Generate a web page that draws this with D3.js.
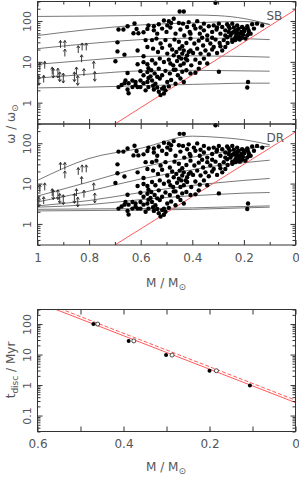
<!DOCTYPE html>
<html>
<head>
<meta charset="utf-8">
<script src="https://cdnjs.cloudflare.com/ajax/libs/d3/7.8.5/d3.min.js"></script>
<style>
  body { margin: 0; background: #fff; }
  svg text { font-family: "DejaVu Sans", sans-serif; fill: #555; }
  .frame { fill: none; stroke: #333; stroke-width: 1; }
  .tick line { stroke: #333; }
  .track { fill: none; stroke: #555; stroke-width: 0.8; }
  .limit { fill: none; stroke: #ff5a5a; stroke-width: 1; }
  .arrow { fill: none; stroke: #222; stroke-width: 0.9; }
</style>
</head>
<body>
<svg id="chart" width="299" height="478"></svg>
<script>

// Model tracks, sampled at these masses
var trackM = [1, 0.8, 0.6, 0.4, 0.3, 0.2, 0.1];
var sbTracks = [
  [129, 132, 136, 140, 135, 115, 82],
  [44, 62, 80, 90, 95, 97, 82],
  [21, 28, 35, 38, 38, 37, 35],
  [8.7, 11, 13.5, 14, 13.8, 13.5, 13],
  [4.0, 5.0, 6.0, 6.2, 6.1, 6.0, 5.9],
  [2.3, 2.4, 2.6, 2.8, 2.9, 3.0, 3.0]
];
var drTracks = [
  [12, 42, 75, 150, 140, 122, 92],
  [4.9, 11, 25, 45, 58, 72, 85],
  [3.5, 6.5, 13, 22, 28, 33, 38],
  [2.8, 3.8, 6, 9, 10.5, 12, 13.4],
  [2.6, 3.0, 4.0, 5.0, 5.4, 5.8, 6.0],
  [2.3, 2.35, 2.4, 2.5, 2.6, 2.7, 2.8],
  [2.1, 2.15, 2.2, 2.3, 2.4, 2.5, 2.6]
];

// Break-up limit (red line)
var limitM = [0.7, 0];
var limitW = [0.3, 190];

// Observed stars (same in both panels)
var starM = [
  0.686, 0.667, 0.651, 0.624, 0.616, 0.628, 0.609, 0.589, 0.574, 0.57,
  0.69, 0.581, 0.574, 0.69, 0.663, 0.612, 0.589, 0.698, 0.612, 0.589,
  0.574, 0.57, 0.651, 0.601, 0.589, 0.574, 0.659, 0.647, 0.632, 0.62,
  0.612, 0.601, 0.589, 0.574, 0.57, 0.651, 0.632, 0.62, 0.601, 0.581,
  0.647, 0.57, 0.686, 0.674, 0.663,
  0.449, 0.433, 0.31, 0.53, 0.51, 0.491, 0.482, 0.472, 0.452, 0.436,
  0.414, 0.394, 0.381, 0.355, 0.336, 0.317, 0.297, 0.284, 0.265, 0.245,
  0.226, 0.207, 0.187, 0.168, 0.149, 0.129, 0.161, 0.181,
  0.549, 0.536, 0.517, 0.5, 0.485, 0.465, 0.446, 0.431, 0.41, 0.388,
  0.371, 0.355, 0.342, 0.323, 0.306, 0.291, 0.272, 0.255, 0.239, 0.224,
  0.213, 0.198, 0.187, 0.174, 0.252, 0.233, 0.22, 0.207, 0.194, 0.265,
  0.245, 0.229,
  0.556, 0.539, 0.523, 0.504, 0.487, 0.469, 0.452, 0.439, 0.423, 0.407,
  0.392, 0.375, 0.358, 0.342, 0.33, 0.31, 0.294, 0.278, 0.263, 0.245,
  0.233, 0.216, 0.291, 0.272, 0.317,
  0.552, 0.533, 0.517, 0.497, 0.478, 0.462, 0.449, 0.439, 0.433, 0.42,
  0.407, 0.397, 0.381, 0.368, 0.349, 0.336, 0.323, 0.304, 0.284,
  0.556, 0.543, 0.526, 0.51, 0.491, 0.474, 0.459, 0.443, 0.433, 0.42,
  0.404, 0.388, 0.371, 0.355, 0.342,
  0.559, 0.546, 0.53, 0.517, 0.504, 0.487, 0.472, 0.456, 0.439, 0.423,
  0.407, 0.388, 0.375, 0.297,
  0.556, 0.543, 0.526, 0.51, 0.497, 0.482, 0.465, 0.446, 0.433,
  0.549, 0.53, 0.517, 0.51, 0.523, 0.184, 0.187,
  0.259, 0.239, 0.22, 0.2, 0.185, 0.233, 0.21, 0.246, 0.226, 0.203,
  0.181, 0.259, 0.272, 0.224, 0.239,
  0.472, 0.452, 0.426, 0.414, 0.446, 0.485, 0.465,
  0.536, 0.552, 0.536, 0.504, 0.491, 0.562,
  0.549, 0.497, 0.42, 0.368, 0.304, 0.407, 0.323, 0.362
];
var starW = [
  62, 62, 74, 87, 64, 50, 50, 53, 64, 78,
  30, 34, 23, 18, 15, 19, 13.7, 10.3, 8.7, 9.8,
  8.7, 7.0, 5.3, 5.9, 4.7, 5.6, 3.5, 3.0, 3.5, 3.2,
  2.4, 3.5, 3.0, 3.2, 4.0, 2.1, 2.4, 2.7, 2.4, 2.0,
  1.7, 2.4, 2.4, 2.7, 3.0,
  171, 171, 280, 83, 103, 99, 89, 113, 89, 86,
  94, 78, 99, 86, 74, 78, 86, 71, 83, 86,
  78, 71, 74, 83, 86, 78, 65, 57,
  59, 49, 65, 54, 69, 49, 62, 44, 54, 65,
  49, 59, 44, 54, 62, 49, 59, 65, 54, 62,
  49, 57, 44, 49, 44, 40, 42, 39, 37, 40,
  35, 47,
  34, 37, 28, 34, 25, 35, 31, 24, 29, 37,
  28, 33, 25, 34, 28, 35, 29, 34, 29, 31,
  34, 35, 24, 23, 23,
  21, 17.4, 22, 15.9, 20, 17.4, 21, 15.9, 19, 14.4,
  19, 16.4, 21, 15.9, 19, 15.2, 20, 16.4, 19,
  10.9, 9.1, 12, 9.9, 11.3, 8.2, 10.5, 12, 9.1, 10.9,
  8.2, 11.3, 9.4, 12, 9.1,
  6.2, 5.2, 6.8, 4.7, 6.0, 5.2, 6.4, 4.7, 5.7, 6.2,
  5.2, 5.4, 6.8, 5.7,
  3.5, 2.9, 3.9, 2.4, 3.2, 3.6, 2.9, 3.9, 3.2,
  2.1, 1.85, 2.2, 1.68, 1.53, 3.2, 2.35,
  74, 69, 65, 65, 65, 57, 54, 51, 51, 46,
  49, 54, 44, 37, 34,
  14.4, 13.2, 12, 17.4, 8.2, 9.1, 6.4,
  4.3, 2.6, 2.35, 2.0, 2.5, 4.4,
  74, 78, 71, 69, 69, 49, 39, 39
];

// Lower limits: "up" = single arrow, "both" = double-headed
var arrowM = [0.911, 0.894, 0.894, 0.842, 0.827, 0.811, 0.829, 0.991, 0.972, 0.782,
              0.943, 0.849, 0.82, 0.976, 0.939, 0.921, 0.914, 0.9, 0.857, 0.844, 0.778, 0.995];
var arrowW = [22, 22, 13.5, 16.4, 19, 19, 9.8, 6.2, 6.8, 6.8,
              4.9, 4.9, 4.5, 3.1, 5.3, 5.3, 4.3, 4.0, 4.3, 3.5, 4.4, 3.5];
var arrowKind = ["up", "up", "up", "up", "up", "up", "up", "up", "up", "up",
                 "up", "up", "up", "up", "both", "both", "both", "both", "both", "both", "both", "both"];

// Disc lifetime panel
var discM = [0.47, 0.388, 0.301, 0.2, 0.106];
var discT = [100, 28, 9.6, 2.95, 0.96];
var discOpenM = [0.46, 0.376, 0.287, 0.184];
var discOpenT = [100, 28, 9.6, 2.95];
var fitM = [0.6, 0];
var fitT = [516, 0.266];
var fitDashT = [620, 0.32];

// Ticks
var xMajorTop = [1, 0.8, 0.6, 0.4, 0.2, 0];
var xMinorTop = [0.9, 0.7, 0.5, 0.3, 0.1];
var xMajorDisc = [0.6, 0.5, 0.4, 0.3, 0.2, 0.1, 0];
var wLabels = [1, 10, 100];
var tLabels = [0.1, 1, 10, 100];

var svg = d3.select("#chart");
var left = 37.5, width = 258;

// log minor ticks inside a domain
function minorTicks(domain) {
  var out = [];
  for (var e = -3; e <= 3; e++) {
    for (var k = 2; k <= 9; k++) {
      var v = k * Math.pow(10, e);
      if (v >= domain[0] * 0.999 && v <= domain[1] * 1.001) out.push(v);
    }
  }
  return out;
}
function majorTicks(domain) {
  var out = [];
  for (var e = -3; e <= 3; e++) {
    var v = Math.pow(10, e);
    if (v >= domain[0] && v <= domain[1]) out.push(v);
  }
  return out;
}

// frame with inward ticks on all four sides
function drawFrame(g, x, y, h, xMajor, xMinor, yLabels, showX) {
  var fmt = d3.format("");
  g.append("g").attr("transform", "translate(0," + h + ")")
      .call(d3.axisBottom(x).tickValues(xMajor).tickSize(-5).tickPadding(8)
        .tickFormat(showX ? fmt : ""));
  g.append("g").attr("transform", "translate(0," + h + ")")
      .call(d3.axisBottom(x).tickValues(xMinor).tickSize(-3).tickFormat(""));
  g.append("g")
      .call(d3.axisTop(x).tickValues(xMajor).tickSize(-5).tickFormat(""));
  g.append("g")
      .call(d3.axisTop(x).tickValues(xMinor).tickSize(-3).tickFormat(""));

  var yl = g.append("g")
      .call(d3.axisLeft(y).tickValues(majorTicks(y.domain())).tickSize(-5)
        .tickFormat(function(d) { return yLabels.indexOf(d) >= 0 ? fmt(d) : ""; }));
  yl.selectAll("text")
      .attr("transform", "rotate(-90)")
      .attr("x", 0).attr("y", -7).attr("dy", 0)
      .style("text-anchor", "middle")
      .style("font-size", "11px");
  g.append("g")
      .call(d3.axisLeft(y).tickValues(minorTicks(y.domain())).tickSize(-3).tickFormat(""));
  g.append("g").attr("transform", "translate(" + width + ",0)")
      .call(d3.axisRight(y).tickValues(majorTicks(y.domain())).tickSize(-5).tickFormat(""));
  g.append("g").attr("transform", "translate(" + width + ",0)")
      .call(d3.axisRight(y).tickValues(minorTicks(y.domain())).tickSize(-3).tickFormat(""));

  g.selectAll(".domain").remove();
  g.selectAll(".tick text").style("font-size", function() {
    return d3.select(this).style("font-size") == "11px" ? "11px" : "12px";
  });
  g.append("rect").attr("class", "frame")
      .attr("width", width).attr("height", h);
}

// One rotation panel
function drawPanel(top, h, tracks, name, showX, id) {
  var g = svg.append("g").attr("transform", "translate(" + left + "," + top + ")");
  var x = d3.scaleLinear().domain([1, 0]).range([0, width]);
  var y = d3.scaleLog().domain([0.3, 300]).range([h, 0]);

  g.append("clipPath").attr("id", id)
    .append("rect").attr("width", width).attr("height", h);

  var line = d3.line()
      .x(function(d) { return x(d[0]); })
      .y(function(d) { return y(d[1]); })
      .curve(d3.curveMonotoneX);

  g.selectAll(".track")
      .data(tracks)
    .enter().append("path")
      .attr("class", "track")
      .attr("clip-path", "url(#" + id + ")")
      .attr("d", function(t) { return line(t.map(function(v, i) { return [trackM[i], v]; })); });

  g.append("path")
      .attr("class", "limit")
      .attr("clip-path", "url(#" + id + ")")
      .attr("d", d3.line()(limitM.map(function(m, i) { return [x(m), y(limitW[i])]; })));

  // lower limit arrows
  arrowM.forEach(function(m, i) {
    var px = x(m), py = y(arrowW[i]), d;
    if (arrowKind[i] == "up") {
      d = "M" + px + "," + py + "V" + (py - 7) +
          "M" + (px - 1.5) + "," + (py - 5) + "L" + px + "," + (py - 7.5) + "L" + (px + 1.5) + "," + (py - 5);
    } else {
      d = "M" + px + "," + (py + 4.5) + "V" + (py - 4.5) +
          "M" + (px - 1.5) + "," + (py - 2.5) + "L" + px + "," + (py - 5) + "L" + (px + 1.5) + "," + (py - 2.5) +
          "M" + (px - 1.5) + "," + (py + 2.5) + "L" + px + "," + (py + 5) + "L" + (px + 1.5) + "," + (py + 2.5);
    }
    g.append("path").attr("class", "arrow").attr("d", d);
  });

  g.selectAll(".dot")
      .data(starM)
    .enter().append("circle")
      .attr("cx", function(d) { return x(d); })
      .attr("cy", function(d, i) { return y(starW[i]); })
      .attr("r", 2.2)
      .style("fill", "#000");

  drawFrame(g, x, y, h, xMajorTop, xMinorTop, wLabels, showX);

  g.append("text")
      .attr("x", 229).attr("y", 18)
      .style("font-size", "12px")
      .text(name);
}

drawPanel(1.5, 122.5, sbTracks, "SB", false, "clipSB");
drawPanel(124, 121, drTracks, "DR", true, "clipDR");

// ω axis title
var wt = svg.append("text")
    .attr("transform", "translate(15,124) rotate(-90)")
    .style("text-anchor", "middle")
    .style("font-size", "12px")
    .text("ω / ω");
wt.append("tspan").attr("dy", 3).style("font-size", "9px").text("⊙");

// M axis titles
function massTitle(yPos) {
  var t = svg.append("text")
      .attr("x", 166).attr("y", yPos)
      .style("text-anchor", "middle")
      .style("font-size", "12px")
      .text("M / M");
  t.append("tspan").attr("dy", 3).style("font-size", "9px").text("⊙");
}
massTitle(287);
massTitle(471);

// Disc lifetime panel
var dTop = 309.5, dH = 122;
var gd = svg.append("g").attr("transform", "translate(" + left + "," + dTop + ")");
var xd = d3.scaleLinear().domain([0.6, 0]).range([0, width]);
var yd = d3.scaleLog().domain([0.03, 300]).range([dH, 0]);

gd.append("clipPath").attr("id", "clipDisc")
  .append("rect").attr("width", width).attr("height", dH);

var fitLine = d3.line()
    .x(function(d) { return xd(d[0]); })
    .y(function(d) { return yd(d[1]); });

gd.append("path")
    .attr("class", "limit")
    .attr("clip-path", "url(#clipDisc)")
    .attr("d", fitLine(fitM.map(function(m, i) { return [m, fitT[i]]; })));
gd.append("path")
    .attr("class", "limit")
    .attr("clip-path", "url(#clipDisc)")
    .style("stroke-dasharray", "4,2")
    .attr("d", fitLine(fitM.map(function(m, i) { return [m, fitDashT[i]]; })));

gd.selectAll(".open")
    .data(discOpenM)
  .enter().append("circle")
    .attr("cx", function(d) { return xd(d); })
    .attr("cy", function(d, i) { return yd(discOpenT[i]); })
    .attr("r", 2)
    .style("fill", "#fff").style("stroke", "#000").style("stroke-width", 0.7);

gd.selectAll(".filled")
    .data(discM)
  .enter().append("circle")
    .attr("cx", function(d) { return xd(d); })
    .attr("cy", function(d, i) { return yd(discT[i]); })
    .attr("r", 2)
    .style("fill", "#000");

drawFrame(gd, xd, yd, dH, xMajorDisc, [], tLabels, true);
gd.selectAll(".tick text").filter(function(d) { return [0.5, 0.3, 0.1].indexOf(d) >= 0 && d3.select(this).attr("transform") == null; }).text("");

var tt = svg.append("text")
    .attr("transform", "translate(15,370) rotate(-90)")
    .style("text-anchor", "middle")
    .style("font-size", "12px")
    .text("t");
tt.append("tspan").attr("dy", 3).style("font-size", "9px").text("disc");
tt.append("tspan").attr("dy", -3).text(" / Myr");

</script>
</body>
</html>
